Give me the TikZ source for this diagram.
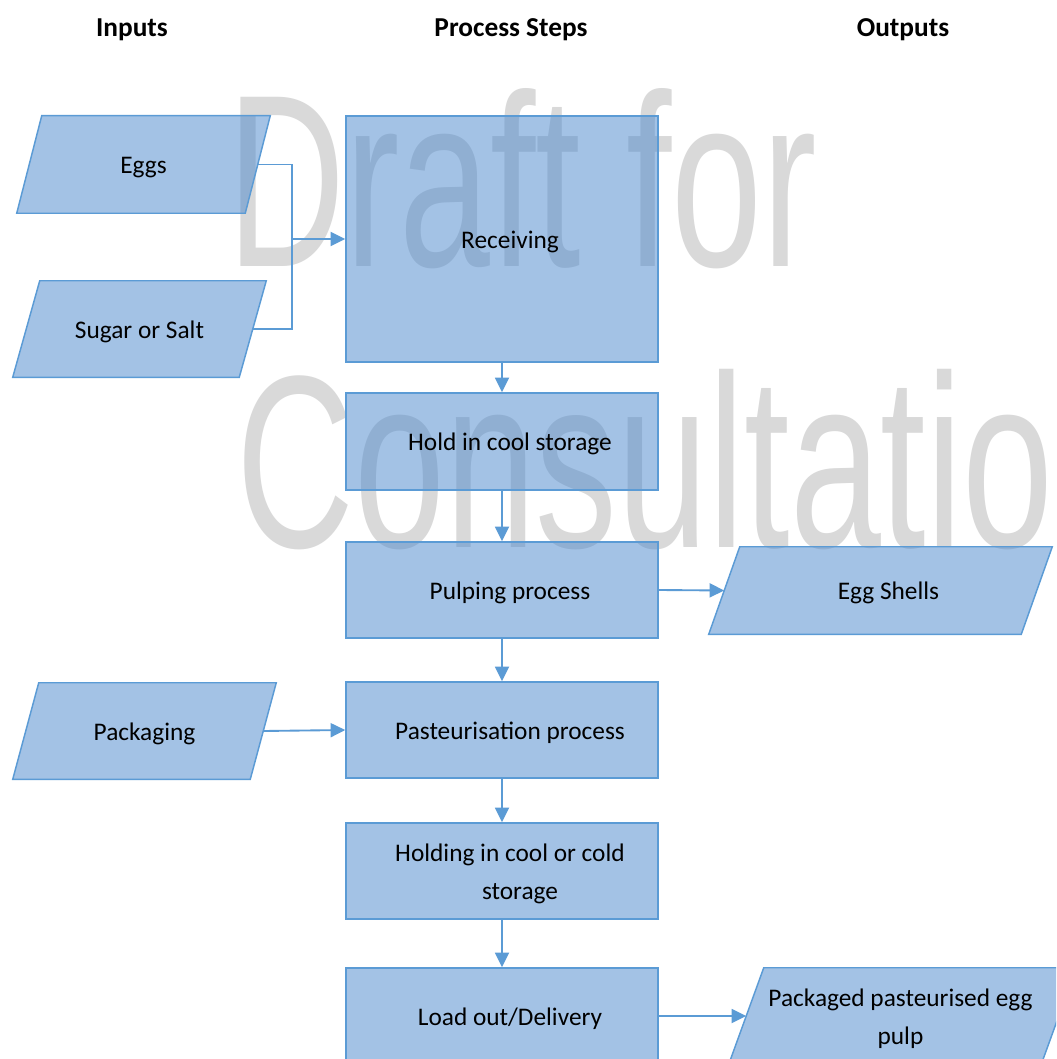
\documentclass[tikz,border=0pt]{standalone}
\usepackage{fontspec}
\setmainfont{Carlito}
\newfontfamily\wmfont{Liberation Sans}
\usepackage{graphicx}
\usetikzlibrary{arrows.meta,backgrounds}
\definecolor{boxline}{RGB}{91,155,213}
\definecolor{boxfill}{RGB}{73,135,205}
\definecolor{wmgray}{RGB}{217,217,217}
\newcommand\paraframe[2]{%
  \begin{pgfonlayer}{background}
    \begin{scope}
      \clip (0,0) rectangle (1056,1059);
      \draw[boxstyle] ([xshift=#2]#1.north west) -- ([xshift=#2]#1.north east)
        -- ([xshift=-#2]#1.south east) -- ([xshift=-#2]#1.south west) -- cycle;
    \end{scope}
  \end{pgfonlayer}}
\begin{document}
\begin{tikzpicture}[x=0.75pt,y=-0.75pt,
  boxstyle/.style={draw=boxline, line width=1.1pt, fill=boxfill, fill opacity=0.5},
  boxtext/.style={font=\fontsize{19}{28.5}\selectfont, text=black, text opacity=1, fill opacity=1,
    align=center, inner sep=0pt, yshift=-2pt},
  procbox/.style={boxstyle, rectangle, minimum width=234pt, minimum height=72pt, inner sep=0pt},
  paranode/.style={rectangle, inner sep=0pt, minimum height=72pt},
  header/.style={font=\fontsize{20.5}{24}\selectfont\bfseries, inner sep=0pt, anchor=base},
  wm/.style={text=wmgray, inner sep=0pt, anchor=base west, font=\wmfont\fontsize{184.5}{184.5}\selectfont},
  flow/.style={draw=boxline, line width=1.4pt, -{Triangle[length=11pt,width=10.5pt]}},
  link/.style={draw=boxline, line width=1.4pt}]
\useasboundingbox (0,0) rectangle (1056,1059);
\begin{pgfonlayer}{background}
  \begin{scope}
    \clip (0,0) rectangle (1056,1059);
    \fill[white] (0,0) rectangle (1056,1059);
    % watermark
    \node[wm] (wm1) at (227,266) {\scalebox{0.664}[1]{Draft for}};
    \node[wm] (wm2) at (236,547) {\scalebox{0.664}[1]{Consultation}};
  \end{scope}
\end{pgfonlayer}
\clip (0,0) rectangle (1056,1059);

% headers
\node[header] (hin) at (132,37) {Inputs};
\node[header] (hproc) at (511,37) {Process Steps};
\node[header] (hout) at (903,37) {Outputs};

% process steps
\node[procbox, minimum height=184.5pt, label={[boxtext, xshift=6pt]center:Receiving}] (rec) at (502,239) {};
\node[procbox, minimum height=72.75pt, label={[boxtext, xshift=6pt]center:Hold in cool storage}] (hold) at (502,441.5) {};
\node[procbox, label={[boxtext, xshift=6pt]center:Pulping process}] (pulp) at (502,590) {};
\node[procbox, label={[boxtext, xshift=6pt]center:Pasteurisation process}] (past) at (502,730) {};
\node[procbox, label={[boxtext, xshift=6pt]center:Holding in cool or cold\\\hspace*{15pt}storage}] (holdc) at (502,871) {};
\node[procbox, label={[boxtext, xshift=6pt]center:Load out/Delivery}] (load) at (502,1016) {};

% inputs
\node[paranode, minimum width=171pt, minimum height=72.75pt, label={[boxtext]center:Eggs}] (eggs) at (143.5,164.5) {};
\paraframe{eggs}{9.375pt}
\node[paranode, minimum width=169.5pt, label={[boxtext]center:Sugar or Salt}] (sugar) at (139.5,329) {};
\paraframe{sugar}{10.125pt}
\node[paranode, minimum width=177.75pt, label={[boxtext]center:Packaging}] (pack) at (144.5,731) {};
\paraframe{pack}{9.75pt}

% outputs
\node[paranode, minimum width=234pt, minimum height=65.25pt, label={[boxtext, xshift=6pt]center:Egg Shells}] (shells) at (880.5,590.5) {};
\paraframe{shells}{11.625pt}
\node[paranode, minimum width=234pt, label={[boxtext, xshift=-1.5pt]center:Packaged pasteurised egg\\pulp}] (pkgd) at (902.5,1016) {};
\paraframe{pkgd}{13.125pt}

% connectors
\coordinate (jn) at (292,239);
\draw[link] (eggs.east) -| (jn);
\draw[link] (sugar.east) -| (jn);
\draw[flow] (jn) -- (rec.west);
\draw[flow] (rec.south) -- (hold.north);
\draw[flow] (hold.south) -- (pulp.north);
\draw[flow] (pulp.south) -- (past.north);
\draw[flow] (past.south) -- (holdc.north);
\draw[flow] (holdc.south) -- (load.north);
\draw[flow] (pulp.east) -- (shells.west);
\draw[flow] (pack.east) -- (past.west);
\draw[flow] (load.east) -- (pkgd.west);
\end{tikzpicture}
\end{document}
